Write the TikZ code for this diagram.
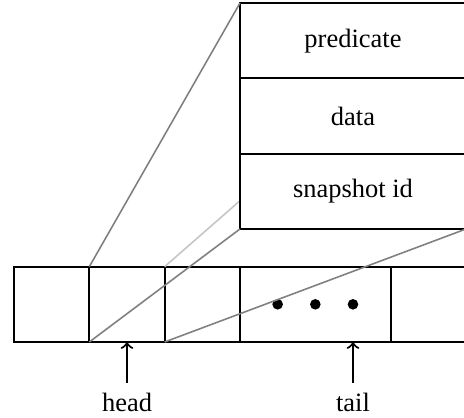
\documentclass[tikz,border=0pt]{standalone}
\usepackage{fontspec}
\setmainfont{Liberation Serif}
\usetikzlibrary{calc}

\begin{document}
\begin{tikzpicture}[thick,
    cell/.style={draw, minimum width=1cm, minimum height=1cm, inner sep=0pt, outer sep=0pt},
    field/.style={draw, fill=white, minimum width=3cm, minimum height=1cm, inner sep=0pt, outer sep=0pt},
    zoomline/.style={gray, semithick}]
    \useasboundingbox (-0.186, -1.0) rectangle (5.974, 4.54);

    % queue cells
    \foreach \i in {0,1,2}
      \node [cell] (c\i) at (\i+0.5, 0.5) {};
    \node [cell, minimum width=2cm] (dots) at (4, 0.5) {};
    \node [cell, minimum width=2cm] (c4) at (6, 0.5) {};
    \foreach \x in {-0.5, 0, 0.5}
      \fill ($(dots.center)+(\x, 0)$) circle (2pt);

    % line behind the entry
    \coordinate (rectop) at (6, 4.5);
    \draw[gray!45, semithick] (c1.north east) -- (rectop);

    % entry
    \node [field] (pred) at (4.5, 4) {predicate};
    \node [field] (data) at (4.5, 3) {data};
    \node [field] (snap) at (4.5, 2) {snapshot id};

    % zoom lines
    \draw[zoomline] (c1.north west) -- (pred.north west);
    \draw[zoomline] (c1.south west) -- (snap.south west);
    \draw[zoomline] (c1.south east) -- (snap.south east);

    % pointers
    \node [text height=1.6ex, text depth=0pt] (head) at (1.5, -0.8) {head};
    \node [text height=1.6ex, text depth=0pt] (tail) at (4.5, -0.8) {tail};
    \draw[->] (head) -- (c1.south);
    \draw[->] (tail) -- ($(dots.south)+(0.5, 0)$);
\end{tikzpicture}
\end{document}
